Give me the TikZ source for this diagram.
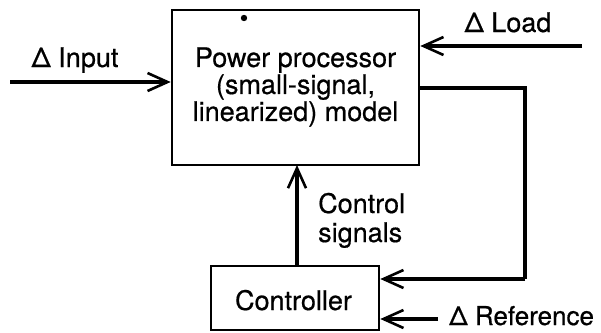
\documentclass[tikz,border=0pt]{standalone}
\usepackage{fontspec}
\setmainfont{TeX Gyre Heros}
\newfontfamily\lblfont{TeX Gyre Heros}[FakeBold=0.6]
\usetikzlibrary{arrows.meta}
\begin{document}
\begin{tikzpicture}[x=1pt,y=-1pt,
  blk/.style={draw,line width=2.6pt,inner sep=0pt},
  sig/.style={line width=4.5pt,-{Straight Barb[length=20pt,width=18pt,line width=2.6pt]}},
  lbl/.style={font=\lblfont\fontsize{27}{27}\selectfont,inner sep=0pt}]
\useasboundingbox (0,0) rectangle (601,332);
\node[blk,minimum width=247pt,minimum height=155pt] (pp) at (295.5,87.5) {};
\node[lbl,align=center] (ppt) at (295.5,87) {Power processor\\(small-signal,\\linearized) model};
\fill (244,18) circle (3.2pt);
\node[blk,minimum width=168pt,minimum height=64pt] (ct) at (295,298) {};
\node[lbl,anchor=base] (ctt) at (293.5,310) {Controller};
\coordinate (inS) at (10,82);
\draw[sig] (inS) -- (inS -| pp.west);
\node[lbl,anchor=base] (inL) at (75,67) {Δ Input};
\coordinate (ldS) at (582,46);
\draw[sig] (ldS) -- (ldS -| pp.east);
\node[lbl,anchor=base] (ldL) at (508,32) {Δ Load};
\coordinate (fbA) at (525,88);
\coordinate (fbB) at (525,279);
\draw[line width=4.5pt,line join=miter] (fbA -| pp.east) -- (fbA) -- (fbB);
\draw[sig] (fbB) -- (fbB -| ct.east);
\draw[sig] (ct.north -| 297,0) -- (297,165);
\node[lbl,align=left,anchor=base west,font=\lblfont\fontsize{27}{29}\selectfont] (csL) at (318,242) {Control\\signals};
\coordinate (rfS) at (438,319);
\draw[sig] (rfS) -- (rfS -| ct.east);
\node[lbl,anchor=base west,font=\lblfont\fontsize{26}{26}\selectfont] (rfL) at (449,325) {Δ Reference};
\end{tikzpicture}
\end{document}
